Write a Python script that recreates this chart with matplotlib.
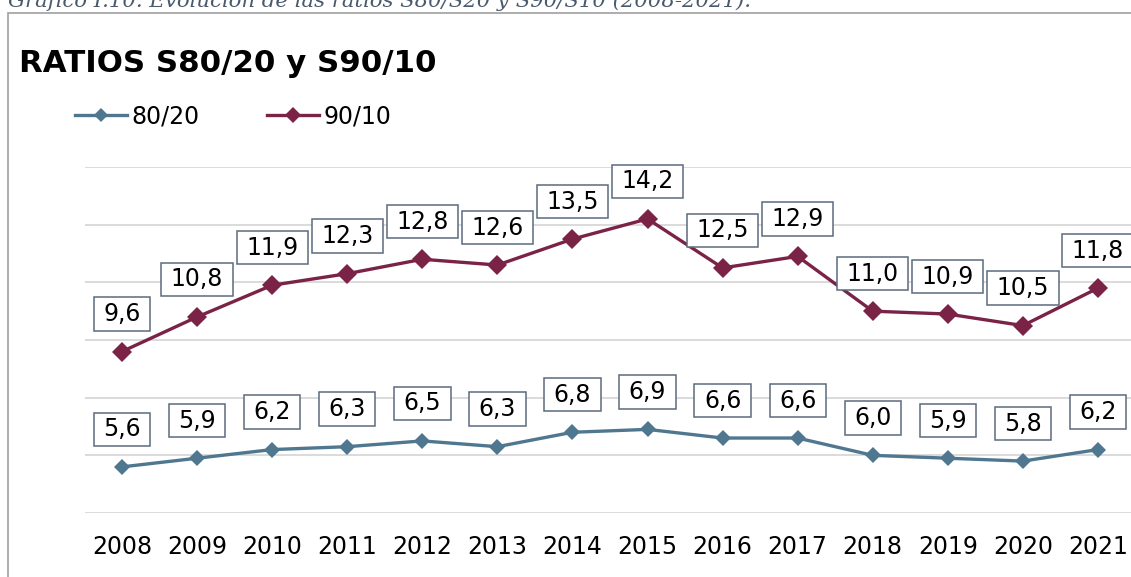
import matplotlib
matplotlib.use("Agg")
import matplotlib.pyplot as plt
from matplotlib.patches import Rectangle
from matplotlib.path import Path

years = ["2008", "2009", "2010", "2011", "2012", "2013", "2014",
         "2015", "2016", "2017", "2018", "2019", "2020", "2021"]
s80_20 = [5.6, 5.9, 6.2, 6.3, 6.5, 6.3, 6.8, 6.9, 6.6, 6.6, 6.0, 5.9, 5.8, 6.2]
s90_10 = [9.6, 10.8, 11.9, 12.3, 12.8, 12.6, 13.5, 14.2, 12.5, 12.9, 11.0, 10.9, 10.5, 11.8]

col_80 = "#4f778f"
col_90 = "#7b2247"
box_edge = "#5d6b7e"


def label_box(x0, y0, width, height, mutation_size):
    # wider padding left/right than top/bottom, like the excel labels
    px = 0.4 * mutation_size
    py = 0.2 * mutation_size
    x0, y0 = x0 - px, y0 - py
    x1, y1 = x0 + width + 2 * px, y0 + height + 2 * py
    return Path([(x0, y0), (x1, y0), (x1, y1), (x0, y1), (x0, y0)], closed=True)


W, H = 1131, 577
fig = plt.figure(figsize=(W / 100, H / 100), dpi=100)
fig.patch.set_facecolor("white")

# outer frame (cut by image edges on right and bottom)
fig.patches.append(Rectangle((8 / W, -0.1), 1.2, 1.1 - 12.5 / H, transform=fig.transFigure,
                             fill=False, edgecolor="#a0a0a0", linewidth=1.2))

# caption, partially cut off at top
fig.text(8 / W, 1 - 7 / H, "Gráfico I.10. Evolución de las ratios S80/S20 y S90/S10 (2008-2021).",
         fontsize=15.3, family="DejaVu Serif", style="italic", color="#4a5a6e",
         ha="left", va="baseline")

fig.text(19 / W, 1 - 72 / H, "RATIOS S80/20 y S90/10", fontsize=22.2, fontweight="bold",
         ha="left", va="baseline", color="black")

ax = fig.add_axes([84.5 / W, 64 / H, 1051 / W, 346 / H])
x = list(range(len(years)))
l1, = ax.plot(x, s80_20, color=col_80, lw=2.4, marker="D", ms=8.5, mew=0, label="80/20",
              clip_on=False, zorder=3)
l2, = ax.plot(x, s90_10, color=col_90, lw=2.4, marker="D", ms=10.5, mew=0, label="90/10",
              clip_on=False, zorder=3)

for series in (s80_20, s90_10):
    for xi, v in zip(x, series):
        ax.annotate(f"{v:.1f}".replace(".", ","), (xi, v), xytext=(0, 27),
                    textcoords="offset points", ha="center", va="center", fontsize=17,
                    bbox=dict(boxstyle=label_box, fc="white", ec=box_edge, lw=1.1),
                    annotation_clip=False, zorder=4)

ax.set_xlim(-0.5, 13.5)
ax.set_ylim(4, 16)
ax.set_yticks([4, 6, 8, 10, 12, 14, 16])
ax.set_yticklabels([])
ax.set_xticks(x)
ax.set_xticklabels(years, fontsize=17)
ax.tick_params(axis="both", length=0)
ax.tick_params(axis="x", pad=16)
ax.grid(axis="y", color="#dadada", lw=1.4)
ax.set_axisbelow(True)
for sp in ax.spines.values():
    sp.set_visible(False)

fig.legend(handles=[l1, l2], loc="center left", bbox_to_anchor=(75 / W, 1 - 116 / H),
           ncol=2, frameon=False, fontsize=17, handlelength=2.2, handletextpad=0.2,
           columnspacing=2.85, borderpad=0, borderaxespad=0, markerscale=0.8)

fig.savefig("out.png", dpi=100)
